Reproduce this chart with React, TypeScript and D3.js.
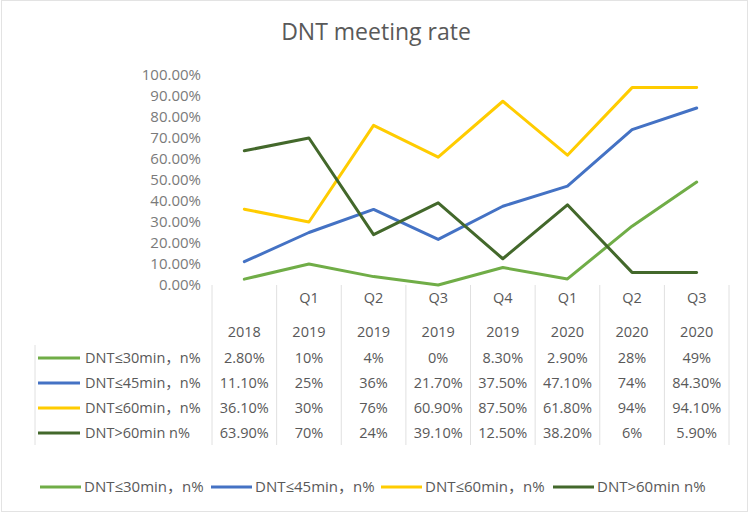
import React from "react";
import * as d3 from "d3";

const quarterLabels = ["", "Q1", "Q2", "Q3", "Q4", "Q1", "Q2", "Q3"];
const yearLabels = ["2018", "2019", "2019", "2019", "2019", "2020", "2020", "2020"];
const categories = quarterLabels.map((q, i) => `${q} ${yearLabels[i]}`.trim() + `#${i}`);

const seriesNames = ["DNT≤30min，n%", "DNT≤45min，n%", "DNT≤60min，n%", "DNT>60min n%"];
const seriesColors = ["#70AD47", "#4472C4", "#FFCC00", "#43682B"];

const dnt30 = [2.8, 10, 4, 0, 8.3, 2.9, 28, 49];
const dnt45 = [11.1, 25, 36, 21.7, 37.5, 47.1, 74, 84.3];
const dnt60 = [36.1, 30, 76, 60.9, 87.5, 61.8, 94, 94.1];
const dntOver60 = [63.9, 70, 24, 39.1, 12.5, 38.2, 6, 5.9];

const dnt30Text = ["2.80%", "10%", "4%", "0%", "8.30%", "2.90%", "28%", "49%"];
const dnt45Text = ["11.10%", "25%", "36%", "21.70%", "37.50%", "47.10%", "74%", "84.30%"];
const dnt60Text = ["36.10%", "30%", "76%", "60.90%", "87.50%", "61.80%", "94%", "94.10%"];
const dntOver60Text = ["63.90%", "70%", "24%", "39.10%", "12.50%", "38.20%", "6%", "5.90%"];

const yTicks = [0, 10, 20, 30, 40, 50, 60, 70, 80, 90, 100];

const seriesValues = [dnt30, dnt45, dnt60, dntOver60];
const seriesTexts = [dnt30Text, dnt45Text, dnt60Text, dntOver60Text];

export default function App() {
  const W = 750, H = 516;
  const x = d3.scaleBand<string>().domain(categories).range([212, 729]).padding(0);
  const y = d3.scaleLinear().domain([0, 100]).range([285, 75]);
  const cx = (i: number) => (x(categories[i]) as number) + x.bandwidth() / 2;
  const line = d3
    .line<number>()
    .x((_, i) => cx(i))
    .y((d) => y(d));

  const font = "'Open Sans', 'Noto Sans CJK SC', sans-serif";
  const boundaries = d3.range(categories.length + 1).map((i) =>
    i < categories.length ? (x(categories[i]) as number) : 729
  );
  const rowY = [358, 383, 408, 433];
  const legendX = [40, 211, 381, 553];

  return (
    <svg width={W} height={H} style={{ position: "absolute", left: 0, top: 0, background: "#fff" }}>
      <rect x={1.5} y={0.5} width={746} height={511} fill="#fff" stroke="#e3e3e3" />
      <text x={376} y={40} textAnchor="middle" fontFamily={font} fontSize={23} fill="#595959">
        DNT meeting rate
      </text>
      {yTicks.map((t) => (
        <text key={t} x={201} y={y(t)} dy="0.35em" textAnchor="end" fontFamily={font} fontSize={15} fill="#7a7a7a">
          {t.toFixed(2)}%
        </text>
      ))}
      {boundaries.map((bx, i) => (
        <line key={i} x1={bx} x2={bx} y1={285} y2={445} stroke="#e0e0e0" strokeWidth={1} />
      ))}
      <line x1={35} x2={35} y1={345} y2={445} stroke="#e0e0e0" strokeWidth={1} />
      {categories.map((c, i) => (
        <g key={c}>
          <text x={cx(i)} y={298} dy="0.35em" textAnchor="middle" fontFamily={font} fontSize={14.5} fill="#595959">
            {quarterLabels[i]}
          </text>
          <text x={cx(i)} y={332} dy="0.35em" textAnchor="middle" fontFamily={font} fontSize={14.5} fill="#595959">
            {yearLabels[i]}
          </text>
        </g>
      ))}
      {seriesNames.map((name, s) => (
        <g key={name}>
          <line x1={38} x2={80} y1={rowY[s]} y2={rowY[s]} stroke={seriesColors[s]} strokeWidth={3} />
          <text x={85} y={rowY[s]} dy="0.35em" fontFamily={font} fontSize={14.5} fill="#595959">
            {name}
          </text>
          {seriesTexts[s].map((t, i) => (
            <text key={i} x={cx(i)} y={rowY[s]} dy="0.35em" textAnchor="middle" fontFamily={font} fontSize={14.5} fill="#595959">
              {t}
            </text>
          ))}
        </g>
      ))}
      {seriesValues.map((vals, s) => (
        <path key={s} d={line(vals) || ""} fill="none" stroke={seriesColors[s]} strokeWidth={3} strokeLinejoin="round" strokeLinecap="round" />
      ))}
      {seriesNames.map((name, s) => (
        <g key={name}>
          <line x1={legendX[s]} x2={legendX[s] + 41} y1={487} y2={487} stroke={seriesColors[s]} strokeWidth={3} />
          <text x={legendX[s] + 44} y={487} dy="0.35em" fontFamily={font} fontSize={15} fill="#595959">
            {name}
          </text>
        </g>
      ))}
    </svg>
  );
}
